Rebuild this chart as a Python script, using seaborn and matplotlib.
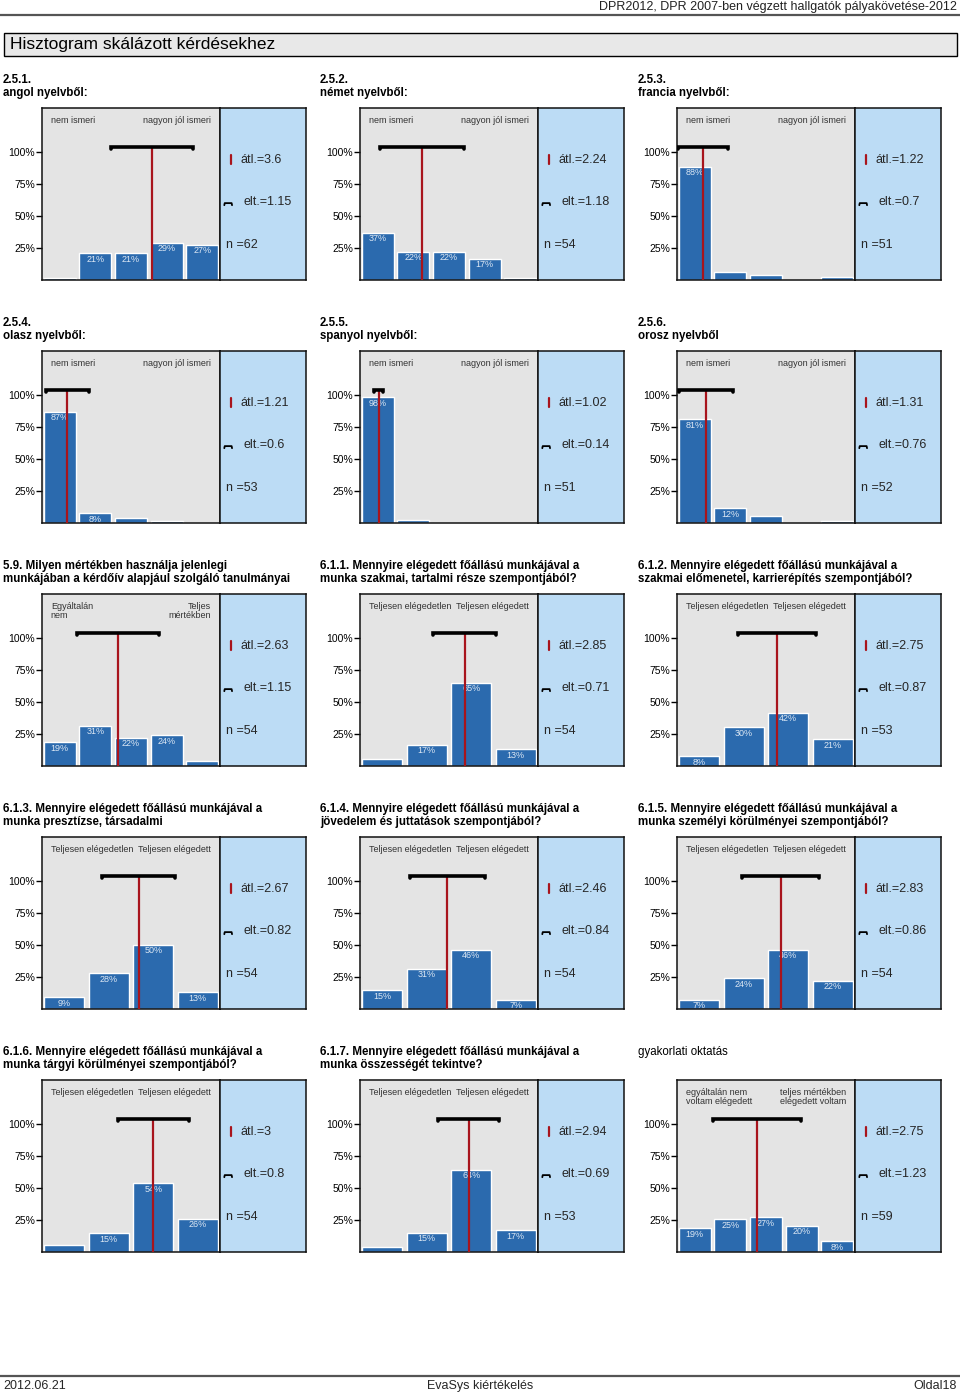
import numpy as np
import pandas as pd
import seaborn as sns
import matplotlib.pyplot as plt

# panel data
panel_titles = [
    "2.5.1.\nangol nyelvből:",
    "2.5.2.\nnémet nyelvből:",
    "2.5.3.\nfrancia nyelvből:",
    "2.5.4.\nolasz nyelvből:",
    "2.5.5.\nspanyol nyelvből:",
    "2.5.6.\norosz nyelvből",
    "5.9. Milyen mértékben használja jelenlegi\nmunkájában a kérdőív alapjául szolgáló tanulmányai",
    "6.1.1. Mennyire elégedett főállású munkájával a\nmunka szakmai, tartalmi része szempontjából?",
    "6.1.2. Mennyire elégedett főállású munkájával a\nszakmai előmenetel, karrierépítés szempontjából?",
    "6.1.3. Mennyire elégedett főállású munkájával a\nmunka presztízse, társadalmi",
    "6.1.4. Mennyire elégedett főállású munkájával a\njövedelem és juttatások szempontjából?",
    "6.1.5. Mennyire elégedett főállású munkájával a\nmunka személyi körülményei szempontjából?",
    "6.1.6. Mennyire elégedett főállású munkájával a\nmunka tárgyi körülményei szempontjából?",
    "6.1.7. Mennyire elégedett főállású munkájával a\nmunka összességét tekintve?",
    "gyakorlati oktatás",
]

left_labels = ["nem ismeri"] * 6 + ["Egyáltalán\nnem"] + ["Teljesen elégedetlen"] * 7 + ["egyáltalán nem\nvoltam elégedett"]
right_labels = ["nagyon jól ismeri"] * 6 + ["Teljes\nmértékben"] + ["Teljesen elégedett"] * 7 + ["teljes mértékben\nelégedett voltam"]

bar_values = [
    [1.6, 21.0, 21.0, 29.0, 27.4],
    [37.0, 22.2, 22.2, 16.7, 1.9],
    [88.2, 5.9, 3.9, 0.0, 2.0],
    [86.8, 7.5, 3.8, 1.9, 0.0],
    [98.0, 2.0, 0.0, 0.0, 0.0],
    [80.8, 11.5, 5.8, 0.0, 1.9],
    [18.52, 31.48, 22.2, 24.1, 3.7],
    [5.6, 16.7, 64.8, 13.0],
    [7.5, 30.2, 41.5, 20.8],
    [9.3, 27.8, 50.0, 13.0],
    [14.8, 31.48, 46.3, 7.4],
    [7.4, 24.1, 46.3, 22.2],
    [5.6, 14.8, 53.7, 25.9],
    [3.8, 15.1, 64.2, 17.0],
    [18.6, 25.4, 27.1, 20.3, 8.5],
]

means = [3.6, 2.24, 1.22, 1.21, 1.02, 1.31, 2.63, 2.85, 2.75, 2.67, 2.46, 2.83, 3, 2.94, 2.75]
sds = [1.15, 1.18, 0.7, 0.6, 0.14, 0.76, 1.15, 0.71, 0.87, 0.82, 0.84, 0.86, 0.8, 0.69, 1.23]
ns = [62, 54, 51, 53, 51, 52, 54, 54, 53, 54, 54, 54, 54, 53, 59]

y_ticks = [25, 50, 75, 100]

sns.set_style("white")
plt.rcParams["font.family"] = ["Liberation Sans", "DejaVu Sans"]

BAR = "#2b6aae"
RED = "#a8141c"
GRAY_BG = "#e4e4e4"
BLUE_BG = "#bcdcf5"

W, H = 960, 1395
fig = plt.figure(figsize=(W / 100, H / 100), dpi=100)

def fx(px):
    return px / W

def fy(py):
    return 1 - py / H

# header
fig.text(fx(957), fy(7), "DPR2012, DPR 2007-ben végzett hallgatók pályakövetése-2012",
         ha="right", va="center", fontsize=9, color="#222")
fig.add_artist(plt.Line2D([0, 1], [fy(15), fy(15)], color="#555", lw=1.6))
fig.add_artist(plt.Rectangle((fx(4), fy(56)), fx(953), 23 / H, facecolor="#e8e8e8",
                             edgecolor="black", lw=1))
fig.text(fx(10), fy(45), "Hisztogram skálázott kérdésekhez", ha="left", va="center",
         fontsize=12.5, color="black")

# footer
fig.add_artist(plt.Line2D([0, 1], [fy(1376), fy(1376)], color="#555", lw=1.6))
fig.text(fx(3), fy(1386), "2012.06.21", ha="left", va="center", fontsize=9)
fig.text(fx(480), fy(1386), "EvaSys kiértékelés", ha="center", va="center", fontsize=9)
fig.text(fx(957), fy(1386), "Oldal18", ha="right", va="center", fontsize=9)

col_left = [42, 360, 677]
col_title = [3, 320, 638]
row_top = [108, 351, 594, 837, 1080]
gw, bw, ph = 178, 86, 172

for i in range(len(bar_values)):
    r, c = divmod(i, 3)
    x0, y0 = col_left[c], row_top[r]
    vals = bar_values[i]
    k = len(vals)
    df = pd.DataFrame({"cat": [str(j + 1) for j in range(k)], "pct": vals})

    ax = fig.add_axes([fx(x0), fy(y0 + ph), gw / W, ph / H])
    ax.set_facecolor(GRAY_BG)
    sns.barplot(data=df, x="cat", y="pct", color=BAR, saturation=1, width=0.9,
                ax=ax, order=df["cat"])
    ax.set_xlim(-0.5, k - 0.5)
    ax.set_ylim(0, 134)
    ax.set_xlabel("")
    ax.set_ylabel("")
    ax.set_xticks([])
    ax.set_yticks(y_ticks)
    ax.set_yticklabels([f"{t}%" for t in y_ticks])
    ax.tick_params(axis="y", direction="out", length=4, width=1, pad=1,
                   labelsize=7.5, left=True, colors="black")
    for s in ax.spines.values():
        s.set_color("#111")
        s.set_linewidth(1.1)

    for j, v in enumerate(vals):
        if v >= 6.5:
            ax.text(j, v - 1.2, f"{round(v)}%", ha="center", va="top",
                    fontsize=6.5, color="#dde8f4")

    m, sd = means[i] - 1, sds[i]
    ax.plot([m, m], [0, 104], color=RED, lw=1.6, zorder=4)
    ax.plot([m - sd, m - sd, m + sd, m + sd], [102, 104, 104, 102], color="black",
            lw=2.6, solid_joinstyle="miter", zorder=5)

    ma = "right" if i == 6 else "left"
    ax.text(0.05, 0.955, left_labels[i], transform=ax.transAxes, ha="left", va="top",
            fontsize=6.5, color="#333", linespacing=1.0)
    ax.text(0.95, 0.955, right_labels[i], transform=ax.transAxes, ha="right", va="top",
            fontsize=6.5, color="#333", linespacing=1.0, multialignment=ma)

    # info box
    axi = fig.add_axes([fx(x0 + gw), fy(y0 + ph), bw / W, ph / H])
    axi.set_facecolor(BLUE_BG)
    axi.set_xlim(0, 1)
    axi.set_ylim(0, 1)
    axi.set_xticks([])
    axi.set_yticks([])
    for s in axi.spines.values():
        s.set_color("#111")
        s.set_linewidth(1.1)
    axi.plot([0.13, 0.13], [0.675, 0.725], color=RED, lw=1.6)
    axi.plot([0.05, 0.055, 0.135, 0.14], [0.435, 0.447, 0.447, 0.435], color="black", lw=1.3)
    axi.text(0.24, 0.70, f"átl.={means[i]:g}", ha="left", va="center", fontsize=9)
    axi.text(0.27, 0.453, f"elt.={sds[i]:g}", ha="left", va="center", fontsize=9)
    axi.text(0.07, 0.205, f"n ={ns[i]}", ha="left", va="center", fontsize=9)

    bold = panel_titles[i][0].isdigit()
    fig.text(fx(col_title[c]), fy(y0 - 34), panel_titles[i], ha="left", va="top",
             fontsize=8.3, fontweight="bold" if bold else "normal",
             linespacing=1.1, color="black")

fig.savefig("out.png", dpi=100)
